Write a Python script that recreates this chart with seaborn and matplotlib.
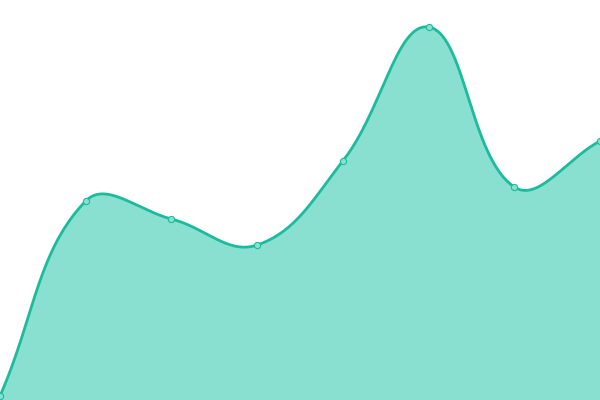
import numpy as np
import pandas as pd
import matplotlib
matplotlib.use("Agg")
import matplotlib.pyplot as plt
import seaborn as sns

# Data
positions = [0, 1, 2, 3, 4, 5, 6, 7]
values = [4, 199, 181, 155, 239, 373, 213, 259]

LINE = "#1abc9c"
FILL = "#8ae0d0"

sns.set_theme(style="white")

fig = plt.figure(figsize=(6, 4), dpi=100)
ax = fig.add_axes([0, 0, 1, 1])
ax.set_xlim(0, 7)
ax.set_ylim(0, 400)
ax.set_axis_off()

# Chart.js-like spline (tension 0.4) computed in pixel space for rendering
xs = np.array(positions, float)
ys = np.array(values, float)
sx = 600 / 7.0
px = xs * sx
py = ys
n = len(px)
t = 0.4
cp_prev = []
cp_next = []
for i in range(n):
    p0 = (px[max(i - 1, 0)], py[max(i - 1, 0)])
    p1 = (px[i], py[i])
    p2 = (px[min(i + 1, n - 1)], py[min(i + 1, n - 1)])
    d01 = np.hypot(p1[0] - p0[0], p1[1] - p0[1])
    d12 = np.hypot(p2[0] - p1[0], p2[1] - p1[1])
    tot = d01 + d12
    s01 = d01 / tot if tot else 0
    s12 = d12 / tot if tot else 0
    fa, fb = t * s01, t * s12
    cp_prev.append((p1[0] - fa * (p2[0] - p0[0]), p1[1] - fa * (p2[1] - p0[1])))
    cp_next.append((p1[0] + fb * (p2[0] - p0[0]), p1[1] + fb * (p2[1] - p0[1])))

cx, cy = [], []
u = np.linspace(0, 1, 60)
for i in range(n - 1):
    P0 = np.array([px[i], py[i]])
    P1 = np.array(cp_next[i])
    P2 = np.array(cp_prev[i + 1])
    P3 = np.array([px[i + 1], py[i + 1]])
    seg = ((1 - u) ** 3)[:, None] * P0 + (3 * (1 - u) ** 2 * u)[:, None] * P1 \
        + (3 * (1 - u) * u ** 2)[:, None] * P2 + (u ** 3)[:, None] * P3
    if i > 0:
        seg = seg[1:]
    cx.extend(seg[:, 0] / sx)
    cy.extend(seg[:, 1])

curve = pd.DataFrame({"x": cx, "y": cy})
ax.fill_between(curve["x"], 0, curve["y"], color=FILL, linewidth=0, zorder=1)
sns.lineplot(data=curve, x="x", y="y", ax=ax, color=LINE, linewidth=2.0,
             sort=False, estimator=None, zorder=2)

pts = pd.DataFrame({"x": positions, "y": values})
sns.scatterplot(data=pts, x="x", y="y", ax=ax, s=20, color=FILL,
                edgecolor=LINE, linewidth=0.8, zorder=3, clip_on=False)

ax.set_xlim(0, 7)
ax.set_ylim(0, 400)
ax.set_axis_off()
fig.savefig("out.png", dpi=100)
